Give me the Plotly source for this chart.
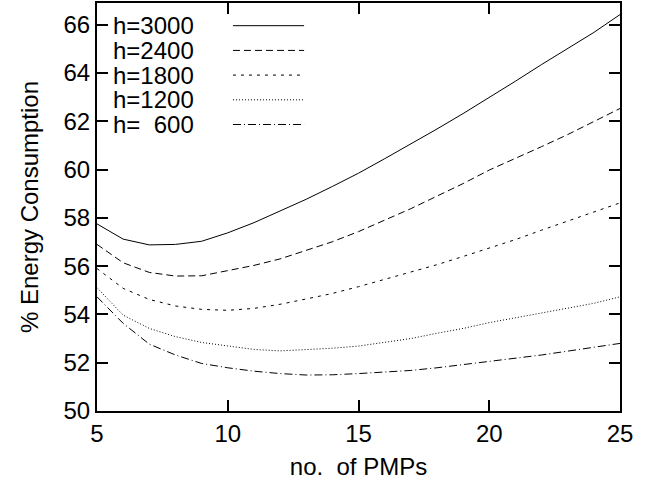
import plotly.graph_objects as go

x_pmps = list(range(5, 26))
h3000 = [57.75, 57.12, 56.88, 56.90, 57.03, 57.38, 57.80, 58.27, 58.77, 59.30, 59.85,
         60.45, 61.05, 61.68, 62.32, 62.98, 63.66, 64.35, 65.00, 65.68, 66.42]
h2400 = [56.90, 56.14, 55.74, 55.59, 55.60, 55.80, 56.03, 56.30, 56.64, 57.01, 57.43,
         57.90, 58.38, 58.90, 59.42, 59.98, 60.45, 60.95, 61.45, 61.98, 62.53]
h1800 = [55.90, 55.08, 54.62, 54.35, 54.21, 54.17, 54.25, 54.42, 54.64, 54.87, 55.15,
         55.45, 55.75, 56.06, 56.40, 56.75, 57.10, 57.49, 57.86, 58.25, 58.62]
h1200 = [55.11, 53.97, 53.42, 53.08, 52.84, 52.70, 52.55, 52.49, 52.53, 52.60, 52.69,
         52.83, 53.00, 53.22, 53.42, 53.66, 53.86, 54.05, 54.25, 54.46, 54.73]
h600 = [54.73, 53.63, 52.77, 52.32, 51.97, 51.79, 51.65, 51.55, 51.49, 51.50, 51.55,
        51.60, 51.68, 51.79, 51.92, 52.05, 52.18, 52.32, 52.48, 52.64, 52.80]

series_names = ["h=3000", "h=2400", "h=1800", "h=1200", "h=\u00a0\u00a0600"]
series_values = [h3000, h2400, h1800, h1200, h600]
dashes = ["solid", "7px,4px", "3px,5px", "1px,2px", "8px,3px,1px,3px"]

x_ticks = [5, 10, 15, 20, 25]
y_ticks = [50, 52, 54, 56, 58, 60, 62, 64, 66]

FONT = "Liberation Sans, Arial, Helvetica, sans-serif"
FS = 24

fig = go.Figure()
for name, vals, d in zip(series_names, series_values, dashes):
    fig.add_trace(go.Scatter(x=x_pmps, y=vals, mode="lines", name=name,
                             line=dict(color="black", width=1, dash=d),
                             showlegend=False))

# gnuplot-style key: right-aligned text, sample line to its right
row_y = [0.9444, 0.8838, 0.8233, 0.7627, 0.7022]
for name, d, yy in zip(series_names, dashes, row_y):
    fig.add_annotation(x=0.1874, y=yy, xref="paper", yref="paper", text=name,
                       showarrow=False, xanchor="right", yanchor="middle",
                       xshift=1, font=dict(family=FONT, size=FS, color="black"))
    fig.add_shape(type="line", xref="paper", yref="paper", x0=0.26, x1=0.396,
                  y0=yy, y1=yy, line=dict(color="black", width=1, dash=d))

fig.update_layout(
    width=660, height=488,
    margin=dict(l=97, r=40, t=3, b=77),
    plot_bgcolor="white", paper_bgcolor="white",
    font=dict(family=FONT, size=FS, color="black"),
)
fig.update_xaxes(range=[5, 25], tickvals=x_ticks, ticks="inside", ticklen=11,
                 tickwidth=1.5, tickcolor="black", mirror="ticks", showline=True,
                 linecolor="black", linewidth=2, showgrid=False, zeroline=False,
                 automargin=False,
                 title=dict(text="no.\u00a0\u00a0of PMPs", standoff=12,
                            font=dict(family=FONT, size=FS, color="black")),
                 tickfont=dict(size=FS))
fig.update_yaxes(range=[50, 66.9], tickvals=y_ticks, ticks="inside", ticklen=11,
                 tickwidth=1.5, tickcolor="black", mirror="ticks", showline=True,
                 linecolor="black", linewidth=2, showgrid=False, zeroline=False,
                 automargin=False,
                 title=dict(text="% Energy Consumption", standoff=18,
                            font=dict(family=FONT, size=FS, color="black")),
                 tickfont=dict(size=FS))

fig.write_html("out.html", config={"displayModeBar": False},
               post_script="document.body.style.margin='0';")
